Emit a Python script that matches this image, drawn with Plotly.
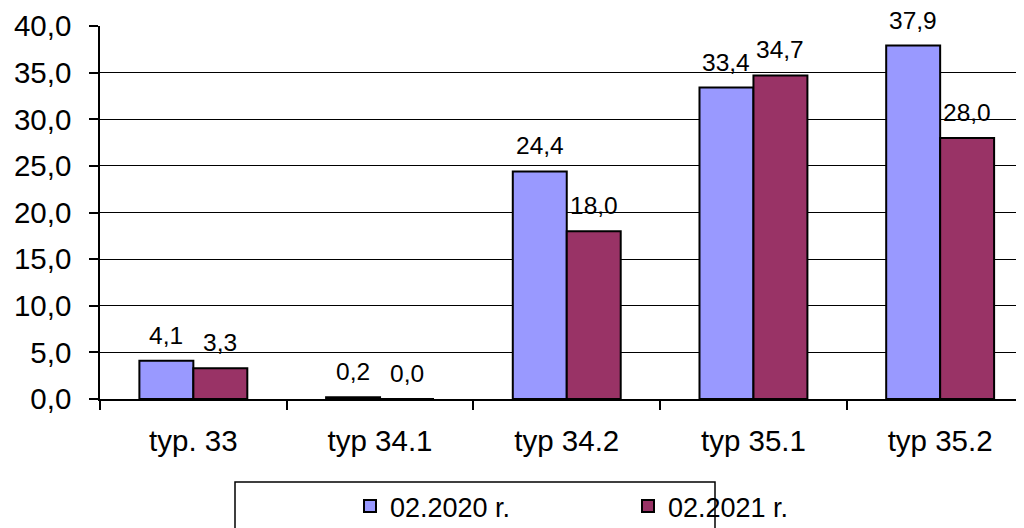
import plotly.graph_objects as go

categories = ["typ. 33", "typ 34.1", "typ 34.2", "typ 35.1", "typ 35.2"]
series_names = ["02.2020 r.", "02.2021 r."]
values_2020 = [4.1, 0.2, 24.4, 33.4, 37.9]
values_2021 = [3.3, 0.0, 18.0, 34.7, 28.0]
y_ticks = [0, 5, 10, 15, 20, 25, 30, 35, 40]

colors = ["#9999FF", "#993366"]
FONT = "Liberation Sans, Arial, sans-serif"

# the page body adds an 8px offset; figure coordinates below account for it
OFF = 8
W, H = 1024, 528
ML, MR, MT, MB = 100 - OFF, 0, 26 - OFF, H - (399 - OFF)
BARGAP = 0.422
CAT_PX = 186.7
plot_w = W - ML - MR
X_RANGE = [-0.5, -0.5 + plot_w / CAT_PX]

fig = go.Figure()
for name, vals, col in zip(series_names, [values_2020, values_2021], colors):
    fig.add_trace(go.Bar(
        x=categories, y=vals, name=name,
        marker=dict(color=col, line=dict(color="black", width=2)),
    ))

# data labels derived from the data, shifted to sit over their bars
bar_px = CAT_PX * (1 - BARGAP) / 2
annotations = []
for k, vals in enumerate([values_2020, values_2021]):
    shift = (k - 0.5) * bar_px
    for c, v in zip(categories, vals):
        annotations.append(dict(
            x=c, y=v, xref="x", yref="y", text=f"{v:.1f}".replace(".", ","),
            showarrow=False, yanchor="bottom", xanchor="center",
            xshift=shift, yshift=10,
            font=dict(family=FONT, size=24.5, color="black"),
        ))

plot_h = H - MT - MB
def py(screen_px):
    return (H - MB - (screen_px - OFF)) / plot_h
def pxx(screen_px):
    return ((screen_px - OFF) - ML) / plot_w

fig.update_layout(
    width=W, height=H,
    margin=dict(l=ML, r=MR, t=MT, b=MB, pad=0, autoexpand=False),
    paper_bgcolor="white", plot_bgcolor="white",
    separators=", ",
    barmode="group", bargap=BARGAP, bargroupgap=0,
    font=dict(family=FONT, size=29.5, color="black"),
    showlegend=True,
    legend=dict(
        orientation="h", xref="container", yref="container",
        x=(350 - OFF) / W, y=(H - (482 - OFF)) / H, xanchor="left", yanchor="top",
        font=dict(family=FONT, size=27, color="black"),
        entrywidth=233, entrywidthmode="pixels",
        bgcolor="rgba(0,0,0,0)", borderwidth=0,
    ),
    xaxis=dict(
        type="category", range=X_RANGE,
        showline=True, linecolor="black", linewidth=1.5,
        ticks="outside", ticklen=9, tickwidth=1.5, tickcolor="black",
        tickson="boundaries", showgrid=False, automargin=False,
        tickfont=dict(family=FONT, size=29.5), ticklabelstandoff=15,
    ),
    yaxis=dict(
        range=[0, 40], tickvals=y_ticks, tickformat=".1f",
        showline=True, linecolor="black", linewidth=1.5,
        ticks="outside", ticklen=9, tickwidth=1.5, tickcolor="black",
        showgrid=True, gridcolor="black", gridwidth=1,
        zeroline=False, automargin=False,
        tickfont=dict(family=FONT, size=29.5), ticklabelstandoff=12,
    ),
    annotations=annotations,
    shapes=[dict(
        type="rect", xref="paper", yref="paper",
        x0=pxx(235), x1=pxx(715), y0=py(482), y1=py(560),
        line=dict(color="black", width=1.5), fillcolor="rgba(0,0,0,0)",
        layer="below",
    )],
)

fig.write_html("out.html")
